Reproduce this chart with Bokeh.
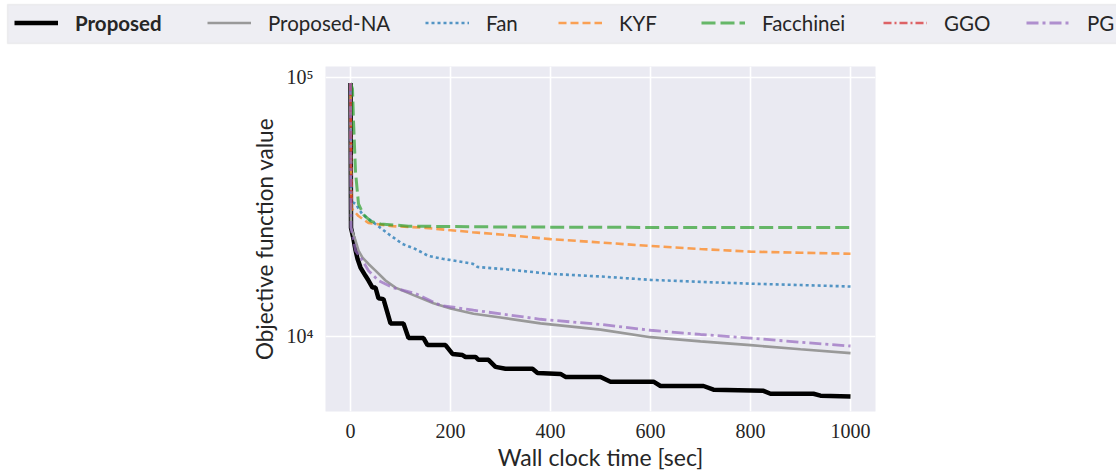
from bokeh.plotting import figure
from bokeh.layouts import column
from bokeh.models import Legend, LegendItem, FixedTicker, Range1d, BoxAnnotation
from bokeh.embed import file_html
from bokeh.resources import INLINE

# ---------------- data ----------------
proposed_x = [0, 1, 6, 10, 14, 20, 30, 36, 44, 50, 56, 66, 80, 106, 116, 146, 154, 190,
              204, 224, 230, 250, 256, 276, 290, 310, 364, 374, 420, 430, 500, 520, 606,
              620, 706, 726, 826, 840, 926, 940, 1000]
proposed_y = [95000, 26200, 23700, 21500, 19900, 18400, 17100, 16400, 15400, 15400, 14000,
              13900, 11200, 11200, 9830, 9830, 9240, 9240, 8540, 8450, 8310, 8310, 8100,
              8100, 7610, 7480, 7480, 7210, 7150, 6960, 6960, 6670, 6670, 6420, 6420, 6210,
              6150, 5990, 5990, 5890, 5850]

na_x = [0, 1, 10, 16, 24, 36, 50, 70, 90, 126, 166, 200, 246, 300, 380, 500, 600, 700, 800, 900, 1000]
na_y = [95000, 26200, 23400, 21400, 20100, 19000, 17900, 16400, 15400, 14400, 13400, 12800,
        12200, 11800, 11200, 10600, 9910, 9550, 9230, 8900, 8600]

fan_x = [0, 2, 10, 24, 50, 76, 104, 130, 156, 184, 244, 254, 314, 400, 500, 600, 700, 800, 900, 1000]
fan_y = [95000, 33000, 32500, 29500, 27100, 24800, 22700, 21700, 20400, 19900, 19050, 18500,
         18100, 17400, 17000, 16500, 16200, 15950, 15750, 15550]

kyf_x = [0, 2, 16, 36, 84, 150, 244, 300, 400, 500, 600, 700, 800, 900, 1000]
kyf_y = [95000, 31200, 29100, 27350, 26600, 26200, 25200, 24700, 23700, 23000, 22300, 21700,
         21200, 21000, 20800]

fac_x = [0, 4, 6, 10, 16, 26, 40, 60, 116, 300, 600, 1000]
fac_y = [95000, 90000, 67600, 43200, 32400, 29500, 27800, 27100, 26600, 26400, 26300, 26300]

ggo_x = [0, 1, 2]
ggo_y = [95000, 50000, 32000]

pg_x = [0, 1, 10, 24, 36, 56, 84, 130, 180, 246, 380, 500, 600, 700, 800, 900, 1000]
pg_y = [95000, 26200, 21400, 19600, 17900, 16400, 15400, 14600, 13150, 12600, 11620, 11100,
        10540, 10150, 9830, 9470, 9160]

x_ticks = [0, 200, 400, 600, 800, 1000]
y_ticks = [10000, 100000]
y_tick_labels = ["10\u2074", "10\u2075"]
labels = ["Proposed", "Proposed-NA", "Fan", "KYF", "Facchinei", "GGO", "PG"]

# ---------------- styles ----------------
BG = "#eaeaf2"
TXT = "#262626"
styles = [
    dict(line_color="black", line_width=4.5),
    dict(line_color="#999999", line_width=2.6),
    dict(line_color="#1f77b4", line_alpha=0.75, line_width=2.6, line_dash="3 3"),
    dict(line_color="#ff7f0e", line_alpha=0.7, line_width=2.6, line_dash="8 4"),
    dict(line_color="#2ca02c", line_alpha=0.7, line_width=3, line_dash="14 5"),
    dict(line_color="#d62728", line_alpha=0.7, line_width=2.6, line_dash="8 3 2 3"),
    dict(line_color="#9467bd", line_alpha=0.7, line_width=2.8, line_dash="12 4 3 4"),
]
data = [(proposed_x, proposed_y), (na_x, na_y), (fan_x, fan_y), (kyf_x, kyf_y),
        (fac_x, fac_y), (ggo_x, ggo_y), (pg_x, pg_y)]

LEG_H = 45
W, H = 1116, 473

# ---------------- main figure ----------------
p = figure(width=W, height=H - LEG_H, y_axis_type="log",
           x_range=Range1d(-50, 1050), y_range=Range1d(5117, 110000),
           output_backend="svg", toolbar_location=None,
           min_border_left=325, min_border_right=W - 875, min_border_top=66 - LEG_H,
           min_border_bottom=H - 412,
           background_fill_color=BG, border_fill_color="white")
p.outline_line_color = None
p.frame_align = False

p.xaxis.ticker = FixedTicker(ticks=x_ticks)
p.yaxis.ticker = FixedTicker(ticks=y_ticks, minor_ticks=[])
p.xgrid.ticker = FixedTicker(ticks=x_ticks)
p.ygrid.ticker = FixedTicker(ticks=y_ticks, minor_ticks=[])
p.yaxis.major_label_overrides = {t: s for t, s in zip(y_ticks, y_tick_labels)}
for g in (p.xgrid, p.ygrid):
    g.grid_line_color = "white"
    g.grid_line_width = 1.6
    g.minor_grid_line_color = None

for ax in (p.xaxis, p.yaxis):
    ax.axis_line_color = None
    ax.major_tick_line_color = None
    ax.minor_tick_line_color = None
    ax.major_tick_out = 0
    ax.major_tick_in = 0
    ax.major_label_text_font = "Liberation Serif"
    ax.major_label_text_font_size = "20px"
    ax.major_label_text_color = TXT
    ax.axis_label_text_font = "Lato"
    ax.axis_label_text_font_style = "normal"
    ax.axis_label_text_color = TXT

p.xaxis.axis_label = "Wall clock time [sec]"
p.yaxis.axis_label = "Objective function value"
p.xaxis.axis_label_text_font_size = "23px"
p.yaxis.axis_label_text_font_size = "22.5px"
p.xaxis.major_label_standoff = 12
p.xaxis.axis_label_standoff = 2
p.yaxis.major_label_standoff = 12
p.yaxis.axis_label_standoff = 6

for (x, y), kw in zip(data, styles):
    p.line(x, y, **kw)

# ---------------- legend strip (its own plot, frame = whole strip, 1 unit = 1 px) ----------------
lf = figure(width=W, height=LEG_H, x_range=Range1d(0, W), y_range=Range1d(0, LEG_H),
            x_axis_type=None, y_axis_type=None, output_backend="svg", toolbar_location=None,
            min_border=0, background_fill_color="white", border_fill_color="white")
lf.outline_line_color = None
lf.frame_align = False
lf.xgrid.visible = False
lf.ygrid.visible = False

# legend box (its right edge runs past the window, as in the reference)
lf.add_layout(BoxAnnotation(left=7, right=W + 30, bottom=2, top=41,
                            fill_color="#eeeef3", fill_alpha=1.0,
                            line_color="#d4d4d4", line_width=1.5, level="underlay"))

# the series again, far above this strip's y-range: they only feed the legend glyphs
legend_renderers = [lf.line(x, y, **kw) for (x, y), kw in zip(data, styles)]

GH = 25
GW = 44
STANDOFF = 17
item_left = [14, 207, 425, 558, 701, 883, 1026]   # left edge of each legend glyph (px)
for i, (lab, r) in enumerate(zip(labels, legend_renderers)):
    lg = Legend(items=[LegendItem(label=lab, renderers=[r])], orientation="horizontal",
                location=(item_left[i], 10), glyph_width=GW, glyph_height=GH,
                label_standoff=STANDOFF, padding=0, margin=0, label_height=GH,
                label_text_font="Lato", label_text_font_size="20.5px", label_text_color=TXT,
                label_text_font_style="bold" if i == 0 else "normal",
                background_fill_alpha=0.0, border_line_color=None)
    lf.add_layout(lg, "center")

layout = column(lf, p, spacing=0)
open("out.html", "w").write(file_html(layout, INLINE))
